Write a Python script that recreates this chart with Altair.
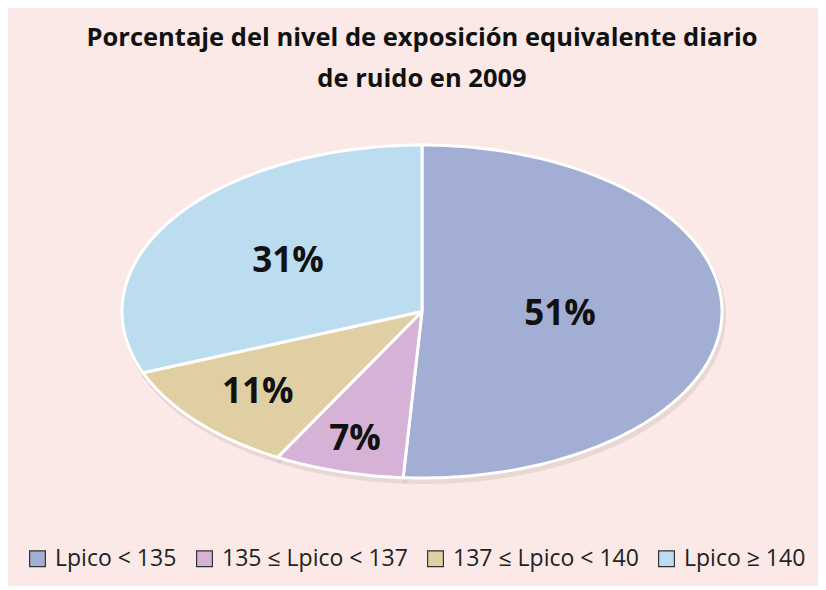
import math
import altair as alt
import pandas as pd

# ---- data ----
categories = ["Lpico < 135", "135 ≤ Lpico < 137", "137 ≤ Lpico < 140", "Lpico ≥ 140"]
percentages = [51, 7, 11, 31]
labels = ["51%", "7%", "11%", "31%"]
colors = ["#a2aed4", "#d6b3d6", "#e0cfa3", "#bcdcf0"]
title_lines = ["Porcentaje del nivel de exposición equivalente diario", "de ruido en 2009"]

# label distance from centre (fraction of the ellipse radius), layout only
label_radius = {"Lpico < 135": 0.46, "135 ≤ Lpico < 137": 0.80,
                "137 ≤ Lpico < 140": 0.73, "Lpico ≥ 140": 0.54}

# ---- build the pie outline (unit circle, stretched by the scales into an ellipse) ----
total = sum(percentages)
rows = []
lab_rows = []
cum = 0.0
for cat, p, lab in zip(categories, percentages, labels):
    start = cum / total * 2 * math.pi
    end = (cum + p) / total * 2 * math.pi
    n = max(4, int(p * 3))
    k = 0
    rows.append(dict(cat=cat, x=0.0, y=0.0, k=k)); k += 1
    for j in range(n + 1):
        t = start + (end - start) * j / n
        rows.append(dict(cat=cat, x=math.sin(t), y=math.cos(t), k=k)); k += 1
    rows.append(dict(cat=cat, x=0.0, y=0.0, k=k))
    mid = (start + end) / 2
    r = label_radius[cat]
    lab_rows.append(dict(cat=cat, label=lab, x=r * math.sin(mid), y=r * math.cos(mid)))
    cum += p

poly = pd.DataFrame(rows)
labdf = pd.DataFrame(lab_rows)

xs = alt.Scale(domain=[-1, 1], nice=False, zero=False)
ys = alt.Scale(domain=[-1, 1], nice=False, zero=False)
FONT = "Open Sans"

color_scale = alt.Scale(domain=categories, range=colors)

shadow = alt.Chart(poly).mark_line(
    stroke="#d3c2bf", strokeWidth=4, fill="#d3c2bf", opacity=0.45, xOffset=2, yOffset=4
).encode(
    x=alt.X("x:Q", scale=xs, axis=None),
    y=alt.Y("y:Q", scale=ys, axis=None),
    detail="cat:N",
    order="k:Q",
)

slices = alt.Chart(poly).mark_line(
    stroke="white", strokeWidth=3, strokeJoin="round"
).encode(
    x=alt.X("x:Q", scale=xs, axis=None),
    y=alt.Y("y:Q", scale=ys, axis=None),
    fill=alt.Fill("cat:N", scale=color_scale, sort=categories,
                  legend=alt.Legend(
                      title=None, orient="none", direction="horizontal",
                      legendX=-96, legendY=402,
                      symbolType="square", symbolSize=250,
                      symbolStrokeColor="#333333", symbolStrokeWidth=1.2,
                      labelFont=FONT, labelFontSize=23, labelColor="#222222",
                      columnPadding=16, labelOffset=6, labelLimit=300,
                      symbolOpacity=1)),
    detail="cat:N",
    order="k:Q",
)

text = alt.Chart(labdf).mark_text(
    font=FONT, fontSize=35, fontWeight="bold", color="#111111",
    align="center", baseline="middle"
).encode(
    x=alt.X("x:Q", scale=xs, axis=None),
    y=alt.Y("y:Q", scale=ys, axis=None),
    text="label:N",
)

chart = alt.layer(shadow, slices, text).properties(
    width=600,
    height=333,
    autosize=alt.AutoSizeParams(type="none"),
    padding={"left": 114, "top": 137, "right": 96, "bottom": 108},
    background="#fae9e6",
    title=alt.TitleParams(
        text=title_lines, font=FONT, fontSize=25.5, fontWeight="bold",
        color="#111111", anchor="middle", offset=49, lineHeight=41,
    ),
).configure_view(stroke=None)

chart.save("out.html", embed_options={"renderer": "svg", "actions": False})
